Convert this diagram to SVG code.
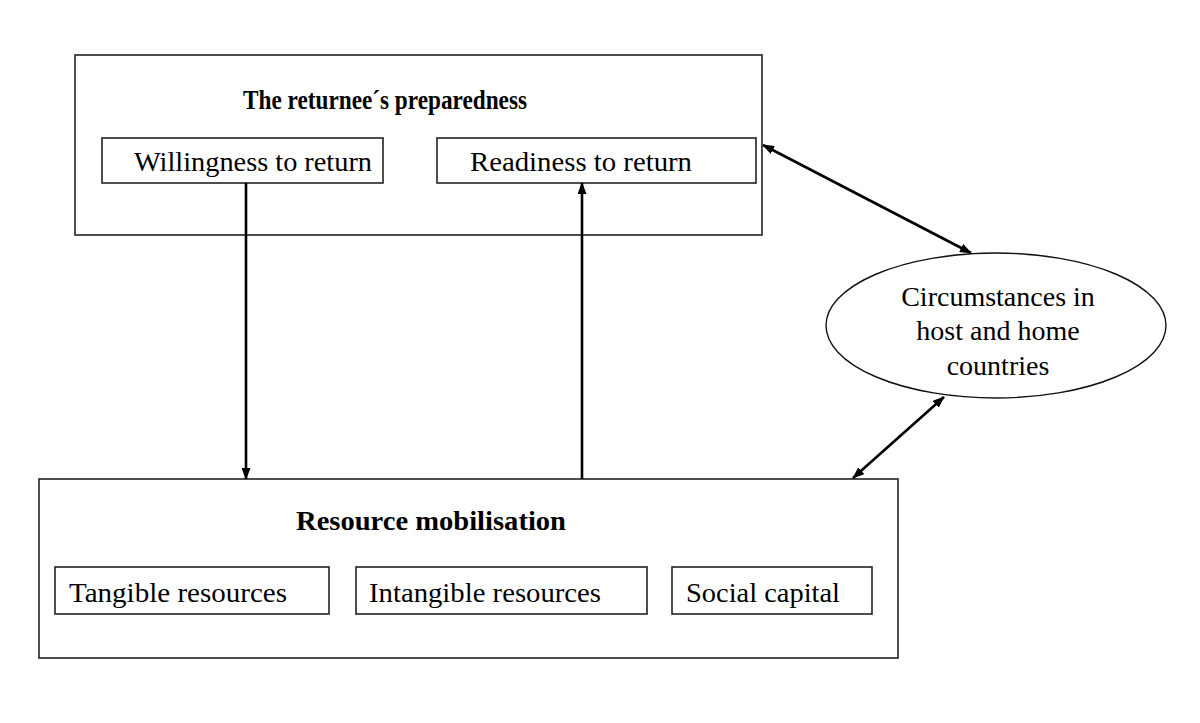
<svg xmlns="http://www.w3.org/2000/svg" width="1200" height="723" viewBox="0 0 1200 723">
<defs>
<marker id="ah" markerWidth="12" markerHeight="9" refX="11" refY="4.5" orient="auto-start-reverse" markerUnits="userSpaceOnUse">
<path d="M0,0 L12,4.5 L0,9 Z" fill="#000"/>
</marker>
<style>
.box{fill:#fff;stroke:#222;stroke-width:1.6}
.t{font-family:"Liberation Serif","Times New Roman",serif;font-size:28px;fill:#000}
.b{font-weight:bold}
.c{stroke:#000;stroke-width:2.6;fill:none}
</style>
</defs>
<rect width="1200" height="723" fill="#fff"/>
<g id="preparedness">
<rect class="box" x="75" y="55" width="687" height="180"/>
<text class="t b" x="243" y="109" textLength="284" lengthAdjust="spacingAndGlyphs">The returnee´s preparedness</text>
</g>
<g id="willingness">
<rect class="box" x="102" y="138" width="281" height="45"/>
<text class="t" x="134" y="171" textLength="238" lengthAdjust="spacingAndGlyphs">Willingness to return</text>
</g>
<g id="readiness">
<rect class="box" x="437" y="138" width="319" height="45"/>
<text class="t" x="470" y="171" textLength="222" lengthAdjust="spacingAndGlyphs">Readiness to return</text>
</g>
<g id="circumstances">
<ellipse cx="996" cy="325.5" rx="170" ry="72.5" fill="#fff" stroke="#111" stroke-width="1.4"/>
<text class="t" x="998" y="306" text-anchor="middle">Circumstances in</text>
<text class="t" x="998" y="340" text-anchor="middle">host and home</text>
<text class="t" x="998" y="375" text-anchor="middle">countries</text>
</g>
<g id="mobilisation">
<rect class="box" x="39" y="479" width="859" height="179"/>
<text class="t b" x="296" y="530" textLength="270" lengthAdjust="spacingAndGlyphs">Resource mobilisation</text>
</g>
<g id="tangible">
<rect class="box" x="55" y="567" width="274" height="47"/>
<text class="t" x="69" y="602" textLength="218" lengthAdjust="spacingAndGlyphs">Tangible resources</text>
</g>
<g id="intangible">
<rect class="box" x="356" y="567" width="291" height="47"/>
<text class="t" x="369" y="602" textLength="232" lengthAdjust="spacingAndGlyphs">Intangible resources</text>
</g>
<g id="social">
<rect class="box" x="672" y="567" width="200" height="47"/>
<text class="t" x="686" y="602" textLength="154" lengthAdjust="spacingAndGlyphs">Social capital</text>
</g>
<g id="connectors">
<line class="c" x1="246" y1="183" x2="246" y2="479" marker-end="url(#ah)"/>
<line class="c" x1="582" y1="479" x2="582" y2="183" marker-end="url(#ah)"/>
<line class="c" x1="763" y1="145" x2="971" y2="253" marker-start="url(#ah)" marker-end="url(#ah)"/>
<line class="c" x1="944" y1="397" x2="853" y2="478" marker-start="url(#ah)" marker-end="url(#ah)"/>
</g>
</svg>
